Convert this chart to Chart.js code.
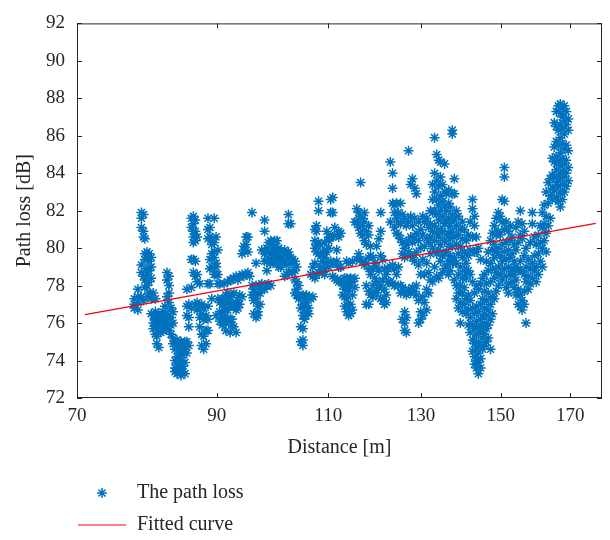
<!DOCTYPE html>
<html lang="en">
<head>
  <meta charset="UTF-8">
  <title>Path loss versus distance</title>
  <script src="https://cdn.jsdelivr.net/npm/chart.js"></script>
  <style>
    html, body { margin: 0; padding: 0; background: #fff; }
    #wrap { width: 610px; height: 540px; }
  </style>
</head>
<body>
  <div id="wrap"><canvas id="pathLossChart"></canvas></div>

  <script>
    // Axis ticks
    const xTicks = [70, 90, 110, 130, 150, 170];
    const yTicks = [72, 74, 76, 78, 80, 82, 84, 86, 88, 90, 92];

    // Measurement distances [m]; pathLoss[i] holds the samples (dB) taken at distance[i]
    const distance = [
      77.6, 78.1, 78.6, 78.9, 79.1, 79.4, 79.7, 80.0, 80.3, 80.6,
      80.8, 81.1, 81.4, 81.7, 82.0, 82.3, 82.6, 82.9, 83.2, 83.5,
      83.8, 84.1, 84.4, 84.7, 85.0, 85.3, 85.6, 86.0, 86.3, 86.6,
      86.9, 87.3, 87.6, 87.9, 88.3, 88.6, 88.9, 89.2, 89.6, 89.9,
      90.2, 90.5, 90.9, 91.2, 91.5, 91.8, 92.2, 92.5, 92.8, 93.2,
      93.5, 93.8, 94.2, 94.5, 94.9, 95.2, 95.5, 95.9, 96.2, 96.6,
      96.9, 97.3, 97.6, 98.1, 98.5, 98.8, 99.2, 99.6, 99.9, 100.3,
      100.6, 101.0, 101.4, 101.7, 102.1, 102.4, 102.8, 103.2, 103.6, 103.9,
      104.3, 104.7, 105.1, 105.4, 105.8, 106.2, 106.6, 107.0, 107.4, 107.7,
      108.1, 108.5, 108.9, 109.3, 109.7, 110.1, 110.5, 110.9, 111.3, 111.7,
      112.1, 112.5, 112.9, 113.3, 113.7, 114.1, 114.5, 114.9, 115.4, 115.8,
      116.2, 116.6, 117.0, 117.4, 117.8, 118.3, 118.7, 119.2, 119.6, 120.0,
      120.5, 120.9, 121.3, 121.7, 122.1, 122.6, 123.0, 123.5, 123.9, 124.4,
      124.8, 125.3, 125.7, 126.2, 126.6, 127.1, 127.6, 128.0, 128.5, 128.9,
      129.4, 129.9, 130.4, 130.8, 131.3, 131.8, 132.2, 132.7, 133.2, 133.7,
      134.2, 134.6, 135.1, 135.6, 136.1, 136.6, 137.0, 137.5, 138.0, 138.5,
      139.0, 139.5, 140.0, 140.5, 141.0, 141.5, 142.0, 142.6, 143.1, 143.6,
      144.1, 144.7, 145.2, 145.7, 146.2, 146.7, 147.3, 147.8, 148.3, 148.8,
      149.4, 149.9, 150.4, 151.0, 151.5, 152.1, 152.6, 153.1, 153.7, 154.2,
      154.8, 155.4, 155.9, 156.5, 157.0, 157.6, 158.2, 158.8, 159.4, 159.9,
      160.5, 161.1, 161.7, 162.2, 162.8, 163.4, 164.0, 164.6, 165.2, 165.8,
      166.4, 167.0, 167.6, 168.2, 168.8, 169.4
    ];

    const pathLoss = [
      [77.3, 77.0, 76.8], [77.8, 77.4, 77.1, 76.7], [81.9, 81.6, 81.1, 79.1, 78.7, 77.4], [81.8, 80.9, 80.6, 78.5, 77.2],
      [80.5, 79.7, 79.4, 78.3, 77.9], [79.8, 79.5, 78.9, 78.6, 78.0, 77.4], [79.7, 79.3, 78.8, 78.2, 77.6], [79.5, 79.0, 78.4, 77.3, 76.5],
      [77.6, 76.4, 76.0, 75.7], [77.3, 76.6, 76.2, 75.9, 75.4],
      [76.4, 76.1, 75.8, 75.3, 74.9], [76.5, 76.2, 75.9, 75.6, 74.7], [76.3, 76.0, 75.8, 75.5], [76.6, 76.1, 75.9, 75.6],
      [76.9, 76.4, 76.0, 75.7], [78.7, 78.3, 77.4, 76.5, 76.0], [78.5, 78.0, 77.6, 77.1, 76.2, 75.6], [76.8, 76.3, 75.9, 75.4],
      [76.6, 76.0, 75.2, 74.9], [75.0, 74.6, 74.0, 73.6, 73.4],
      [75.1, 74.7, 74.2, 73.8, 73.3], [74.9, 74.4, 73.9, 73.5], [75.0, 74.5, 74.0, 73.6, 73.2], [74.8, 74.3, 73.7, 73.4],
      [75.0, 74.6, 73.9, 73.3], [77.8, 76.9, 76.4, 75.0, 74.4], [77.0, 76.3, 75.8, 74.8], [81.6, 81.1, 79.4, 77.9, 76.8],
      [81.7, 81.3, 80.9, 80.6, 80.3, 79.4, 78.7], [81.5, 80.9, 80.4, 79.3, 78.5, 77.0],
      [80.6, 78.6, 78.2, 77.1, 76.7], [78.1, 76.9, 76.3, 75.8], [77.0, 76.5, 75.4, 74.8], [76.8, 76.2, 75.3, 74.6],
      [76.4, 75.6, 74.9], [81.6, 81.0, 80.5, 78.1, 76.9, 76.2, 75.6], [81.1, 80.6, 79.4, 78.9, 78.1], [80.5, 80.2, 79.7, 79.0, 77.3],
      [81.6, 80.3, 79.8, 79.5, 78.6], [80.6, 79.2, 79.0, 78.6, 76.4],
      [79.9, 78.6, 78.1, 77.3], [78.1, 77.1, 76.6, 76.1], [77.3, 77.0, 76.3, 75.9], [78.1, 77.2, 76.7, 76.3],
      [77.5, 77.3, 76.7, 76.0, 75.6], [78.2, 77.6, 77.1, 76.7, 76.2], [78.3, 77.4, 77.1, 76.2, 75.5], [78.3, 77.5, 76.9, 76.2, 75.9],
      [78.4, 77.6, 76.9, 75.8], [78.5, 77.1, 76.7, 75.5],
      [78.3, 77.2, 76.8], [78.5, 77.5, 77.0], [79.7, 78.6, 77.4], [80.1, 79.9, 78.5],
      [80.6, 80.2, 78.6], [80.6, 79.8, 78.7], [78.5], [81.9, 78.0, 77.5],
      [77.8, 77.5, 77.2, 76.5], [79.2, 78.0, 77.3, 76.3],
      [77.6, 76.9, 76.6, 76.4], [78.0, 77.6, 77.0], [79.9, 78.1, 77.8], [81.5, 80.9, 79.7, 79.3, 77.8],
      [80.0, 79.3, 78.8, 78.0], [80.3, 79.8, 79.4, 78.1], [80.4, 79.7, 79.2, 78.0], [80.2, 80.0, 79.5, 79.2],
      [80.4, 79.9, 79.3], [80.4, 79.8, 79.6],
      [80.0, 79.3, 79.0], [79.8, 79.5, 79.0], [79.8, 79.3], [79.9, 79.3, 78.5],
      [79.7, 79.1, 78.6], [81.8, 81.3, 79.8, 79.6, 78.7], [81.3, 79.5, 79.2], [79.4, 78.7],
      [79.3, 78.8, 78.3, 77.6], [79.0, 78.2, 77.8, 77.5],
      [78.0, 77.5, 77.3], [77.4, 76.8, 75.8, 75.0], [77.5, 77.0, 76.4, 75.7, 75.1, 74.8], [77.3, 76.9, 76.4, 76.2],
      [77.5, 77.1, 76.6], [77.4, 76.8, 76.5], [78.6, 77.3], [79.0, 78.5, 77.4],
      [81.0, 80.4, 80.0, 79.2, 78.4], [81.2, 80.9, 80.2, 79.8, 78.6],
      [82.5, 82.0, 80.3, 79.7, 78.7], [80.2, 79.6, 79.0], [79.8, 79.3, 78.7], [80.3, 79.5, 78.9, 78.6],
      [80.9, 79.8, 79.2], [80.6, 80.4, 80.0, 79.0], [82.6, 81.9, 80.6, 79.3], [82.7, 81.9, 80.6, 79.2, 78.5],
      [81.1, 79.2, 78.4], [80.7, 79.9, 79.3, 78.3],
      [80.9, 80.6, 79.0, 78.2], [80.8, 79.0, 78.3], [78.2, 78.0, 77.5], [78.4, 77.8, 77.4, 76.9],
      [79.3, 78.4, 78.0, 77.3, 76.6], [79.2, 78.2, 77.7, 76.9, 76.4], [78.4, 78.0, 77.0, 76.5], [79.3, 78.2, 77.5, 76.7],
      [81.4, 78.4, 77.9], [82.1, 81.4, 79.4],
      [81.9, 81.1, 79.7], [83.5, 81.7, 80.8, 79.4], [81.6, 81.2, 80.7, 79.3], [81.9, 81.4, 80.4, 79.1],
      [80.9, 80.2, 79.2, 78.0, 77.0], [81.2, 80.7, 79.5, 78.9, 77.7, 77.0], [80.1, 79.6, 78.6, 77.5], [79.5, 78.9, 78.0, 77.4],
      [79.2, 78.4, 77.6], [80.1, 79.0, 78.2, 77.6],
      [80.5, 78.8, 77.9], [81.9, 80.9, 79.6, 78.0, 77.3], [79.4, 78.3, 77.2], [78.9, 77.8, 77.0],
      [78.6, 77.5, 77.1], [78.9, 78.2], [84.6, 81.4, 79.0, 78.2], [84.0, 83.2, 82.4, 79.1, 78.1],
      [82.3, 81.9, 81.1, 78.9, 78.0], [82.4, 81.6, 80.8, 78.6],
      [81.9, 81.4, 80.7, 79.0, 78.0], [82.4, 81.3, 80.5, 78.0, 77.6], [81.8, 80.3, 79.7, 77.9, 76.2], [81.6, 80.0, 79.5, 77.7, 76.6, 76.0, 75.6],
      [81.2, 80.2, 77.5, 76.3, 75.5], [85.2, 81.4, 80.4, 79.8, 77.8], [83.4, 81.7, 80.6, 79.6, 77.6], [83.7, 81.2, 80.3, 79.5, 77.9],
      [83.2, 81.6, 80.5, 79.3, 77.7], [82.9, 80.8, 79.8, 78.0, 77.5],
      [81.4, 80.4, 79.1, 77.2, 76.0], [81.0, 80.0, 78.6, 76.6, 76.2], [81.7, 80.7, 79.4, 77.4, 76.4], [81.4, 80.1, 78.6, 77.1],
      [81.6, 80.5, 79.2, 77.8, 76.7], [81.1, 80.3, 78.7, 77.6], [82.0, 81.3, 80.6, 79.7, 78.3], [83.4, 82.6, 81.9, 80.9, 80.0, 78.2],
      [85.9, 84.0, 83.0, 82.0, 81.2, 80.4, 79.0], [85.0, 83.6, 82.6, 81.8, 80.8, 79.7, 78.5],
      [84.7, 83.3, 82.3, 81.5, 80.6, 79.9, 78.4], [84.6, 83.8, 82.8, 82.0, 81.0, 80.2, 79.3], [83.4, 82.5, 81.7, 80.9, 79.6, 78.7], [84.5, 83.0, 82.2, 81.3, 80.4, 79.7, 78.9],
      [82.9, 82.0, 81.4, 80.7, 79.8, 79.1], [83.1, 82.4, 81.6, 80.8, 80.1, 79.3, 78.6], [82.2, 81.2, 80.5, 79.6, 78.8], [86.3, 86.1, 82.9, 81.8, 80.9, 80.1, 79.2],
      [83.7, 82.9, 81.5, 80.6, 79.5, 78.3], [82.0, 81.2, 80.2, 79.2, 78.0, 77.3],
      [81.7, 80.7, 79.7, 78.6, 77.6, 76.8], [81.0, 80.1, 79.0, 78.0, 77.1, 76.0], [81.4, 80.5, 79.5, 78.4, 77.6, 76.6], [81.0, 79.8, 78.8, 77.9, 77.0],
      [80.4, 79.2, 78.4, 77.3, 76.5], [80.7, 79.6, 78.8, 77.5, 76.7, 75.9], [81.4, 79.9, 78.6, 77.2, 76.3, 75.5], [82.6, 82.1, 80.6, 78.2, 76.8, 75.9, 75.1, 74.5],
      [81.7, 81.2, 79.8, 77.6, 76.5, 75.7, 74.9, 74.2, 73.8], [80.6, 79.8, 78.0, 76.9, 76.1, 75.4, 74.7, 74.0, 73.6],
      [80.0, 77.8, 76.6, 75.8, 75.0, 74.4, 73.9, 73.3], [79.4, 78.1, 77.0, 76.2, 75.5, 74.8, 74.1, 73.6], [78.4, 77.3, 76.4, 75.8, 75.2, 74.6], [78.6, 77.7, 76.8, 76.0, 75.4, 74.8],
      [79.3, 78.1, 77.2, 76.4, 75.7, 75.0], [79.8, 78.8, 77.6, 76.7, 75.9, 75.2], [80.4, 79.2, 78.2, 77.0, 76.2, 74.6], [80.8, 79.9, 78.9, 77.4, 76.5],
      [81.2, 80.2, 79.5, 78.4, 77.3], [81.6, 80.7, 79.8, 78.7, 77.7],
      [81.9, 80.9, 80.0, 79.0, 78.0], [81.7, 80.7, 79.6, 78.6], [82.6, 81.4, 80.2, 79.3, 78.3], [84.3, 83.8, 82.5, 81.0, 79.8, 78.9],
      [81.4, 80.3, 79.4, 78.5, 77.9], [80.9, 79.9, 79.0, 78.1, 77.6], [81.2, 80.4, 79.5, 78.6], [80.6, 79.7, 78.9, 78.2],
      [80.2, 79.3, 78.6, 77.9], [81.1, 79.9, 79.0, 78.3, 77.5],
      [81.4, 80.3, 78.8, 77.8, 77.0], [82.0, 80.7, 79.3, 77.5, 76.9], [81.3, 80.5, 78.8, 77.2, 76.7], [80.9, 79.6, 78.6, 77.7, 77.0],
      [80.0, 79.0, 78.2, 76.0], [79.4, 78.5, 77.8], [80.3, 78.9, 78.1], [81.9, 81.3, 79.2, 78.4],
      [80.6, 79.6, 78.8], [80.2, 79.0, 78.2],
      [80.7, 79.7, 78.6], [81.2, 80.3, 79.3], [81.9, 81.1, 80.0, 79.0], [82.3, 81.3, 80.4],
      [83.0, 81.7, 80.8, 79.8], [83.5, 82.4, 81.2], [83.7, 82.8, 81.6], [84.8, 83.9, 83.2, 82.6],
      [86.7, 85.4, 84.6, 83.8, 83.1], [87.3, 86.5, 85.7, 84.9, 84.2, 83.5, 82.7],
      [87.6, 86.3, 85.5, 84.6, 83.9, 83.3, 82.5], [87.7, 87.2, 86.6, 85.9, 85.1, 84.4, 83.7, 83.0, 82.2],
      [87.5, 87.0, 86.4, 85.6, 84.8, 84.1, 83.4, 82.6], [87.6, 86.8, 86.1, 85.3, 84.5, 83.8, 83.0],
      [87.3, 86.6, 85.5, 84.7, 84.0, 83.3], [86.9, 86.3, 85.2, 84.3, 83.6]
    ];

    // Log-distance fit, given at its two ends (straight on a log axis)
    const fitDistance = [71, 178];
    const fitLoss = [76.45, 81.32];

    const textColor = '#262626';
    const serif = "'Liberation Serif', 'Times New Roman', serif";
    Chart.defaults.font.family = serif;
    Chart.defaults.color = textColor;

    const samples = distance.flatMap((d, i) => pathLoss[i].map(v => ({ x: d, y: v })));
    const fitted = fitDistance.map((d, i) => ({ x: d, y: fitLoss[i] }));

    // Axes box with inward tick marks on all four sides
    const boxTicks = {
      id: 'boxTicks',
      afterDraw(chart) {
        const { ctx, chartArea: a, scales: { x, y } } = chart;
        const len = 5;
        ctx.save();
        ctx.strokeStyle = textColor;
        ctx.lineWidth = 1;
        ctx.strokeRect(a.left + 0.5, a.top + 0.5, a.right - a.left - 1, a.bottom - a.top - 1);
        ctx.beginPath();
        xTicks.forEach(v => {
          const px = Math.round(x.getPixelForValue(v)) + 0.5;
          ctx.moveTo(px, a.bottom); ctx.lineTo(px, a.bottom - len);
          ctx.moveTo(px, a.top); ctx.lineTo(px, a.top + len);
        });
        yTicks.forEach(v => {
          const py = Math.round(y.getPixelForValue(v)) + 0.5;
          ctx.moveTo(a.left, py); ctx.lineTo(a.left + len, py);
          ctx.moveTo(a.right, py); ctx.lineTo(a.right - len, py);
        });
        ctx.stroke();
        ctx.restore();
      }
    };

    // Two-row legend under the x-axis title
    const legendBelow = {
      id: 'legendBelow',
      afterDraw(chart) {
        const { ctx, chartArea: a } = chart;
        ctx.save();
        ctx.font = '20px ' + serif;
        ctx.textBaseline = 'middle';
        chart.data.datasets.forEach((ds, i) => {
          const cy = a.bottom + 95 + i * 32;
          ctx.strokeStyle = ds.borderColor;
          ctx.fillStyle = ds.borderColor;
          if (ds.showLine) {
            ctx.lineWidth = 1;
            ctx.beginPath();
            ctx.moveTo(a.left + 1, cy);
            ctx.lineTo(a.left + 49, cy);
            ctx.stroke();
          } else {
            ctx.lineWidth = ds.pointBorderWidth;
            Chart.helpers.drawPoint(ctx, { pointStyle: ds.pointStyle, radius: ds.pointRadius, borderWidth: ds.pointBorderWidth, rotation: 0 }, a.left + 25, cy);
          }
          ctx.fillStyle = textColor;
          ctx.fillText(ds.label, a.left + 60, cy);
        });
        ctx.restore();
      }
    };

    new Chart(document.getElementById('pathLossChart'), {
      type: 'scatter',
      data: {
        datasets: [
          {
            label: 'The path loss',
            data: samples,
            borderColor: '#0072BD',
            backgroundColor: '#0072BD',
            pointStyle: 'star',
            pointRadius: 5,
            pointHoverRadius: 5,
            pointBorderWidth: 1.5,
            showLine: false,
            order: 2
          },
          {
            type: 'line',
            label: 'Fitted curve',
            data: fitted,
            borderColor: '#FF0000',
            borderWidth: 1.3,
            pointRadius: 0,
            showLine: true,
            fill: false,
            tension: 0,
            order: 1
          }
        ]
      },
      options: {
        responsive: true,
        maintainAspectRatio: false,
        animation: false,
        events: [],
        layout: { padding: { left: 0, top: 12, right: 8, bottom: 72 } },
        plugins: { legend: { display: false }, tooltip: { enabled: false } },
        scales: {
          x: {
            type: 'logarithmic',
            min: 70,
            max: 180,
            afterBuildTicks: scale => { scale.ticks = xTicks.map(v => ({ value: v })); },
            afterFit: scale => { scale.height = 70; },
            grid: { display: false, drawTicks: false },
            border: { display: false },
            ticks: {
              autoSkip: false,
              maxRotation: 0,
              padding: 7,
              font: { size: 19 },
              callback: v => String(v)
            },
            title: {
              display: true,
              text: 'Distance [m]',
              font: { size: 20 },
              padding: { top: 0, bottom: 8 }
            }
          },
          y: {
            min: 72,
            max: 92,
            afterBuildTicks: scale => { scale.ticks = yTicks.map(v => ({ value: v })); },
            afterFit: scale => { scale.width = 77; },
            grid: { display: false, drawTicks: false },
            border: { display: false },
            ticks: {
              padding: 12,
              font: { size: 19 },
              callback: v => String(v)
            },
            title: {
              display: true,
              text: 'Path loss [dB]',
              font: { size: 20 },
              padding: { top: 13, bottom: 0 }
            }
          }
        }
      },
      plugins: [boxTicks, legendBelow]
    });
  </script>
</body>
</html>
